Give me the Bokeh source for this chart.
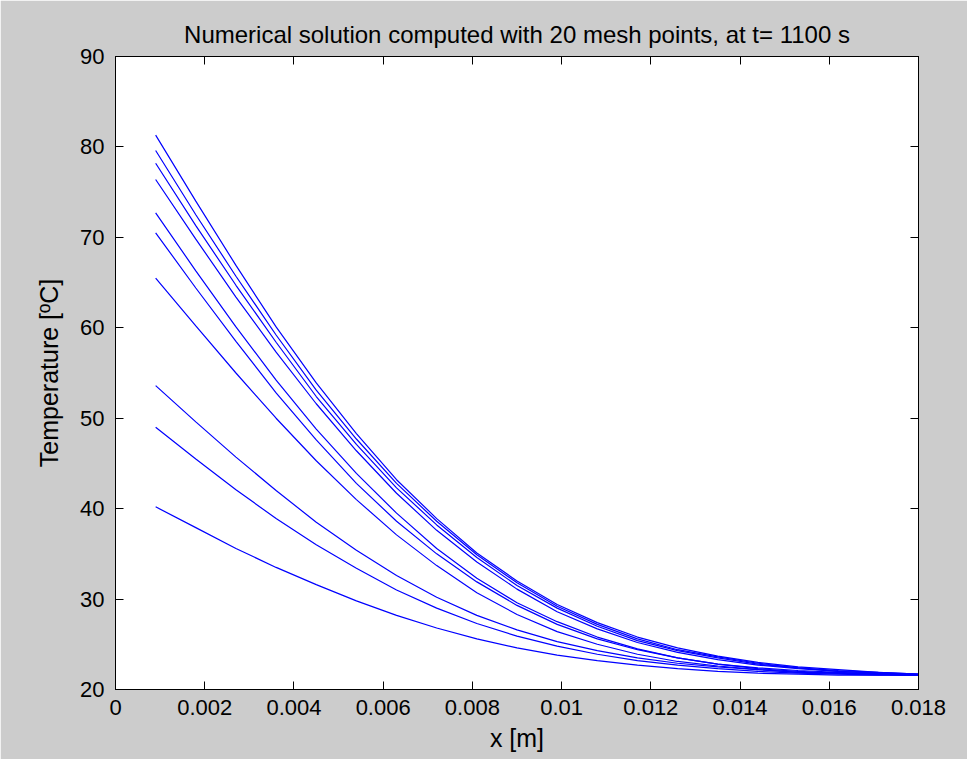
from bokeh.plotting import figure
from bokeh.models import FixedTicker, LinearAxis, Range1d
from bokeh.embed import file_html
from bokeh.resources import INLINE

title_text = "Numerical solution computed with 20 mesh points, at t= 1100 s"
x_label = "x [m]"
y_label = "Temperature [ºC]"

x_mesh = [0.0009, 0.0018, 0.0027, 0.0036, 0.0045, 0.0054, 0.0063, 0.0072, 0.0081, 0.0090,
          0.0099, 0.0108, 0.0117, 0.0126, 0.0135, 0.0144, 0.0153, 0.0162, 0.0171, 0.0180]

temp_1 = [81.3, 74.0, 66.9, 60.1, 53.9, 48.3, 43.2, 38.9, 35.1, 32.0,
          29.4, 27.4, 25.8, 24.6, 23.7, 23.0, 22.5, 22.2, 21.9, 21.7]
temp_2 = [79.6, 72.5, 65.7, 59.2, 53.1, 47.7, 42.8, 38.6, 34.9, 31.8,
          29.2, 27.2, 25.6, 24.4, 23.6, 22.9, 22.4, 22.1, 21.9, 21.7]
temp_3 = [78.2, 71.3, 64.7, 58.4, 52.4, 47.1, 42.3, 38.2, 34.6, 31.5,
          29.0, 27.0, 25.4, 24.3, 23.5, 22.8, 22.4, 22.0, 21.8, 21.7]
temp_4 = [76.4, 69.8, 63.4, 57.3, 51.6, 46.4, 41.7, 37.6, 34.1, 31.1,
          28.6, 26.7, 25.2, 24.1, 23.3, 22.7, 22.3, 22.0, 21.8, 21.6]
temp_5 = [72.7, 66.3, 60.1, 54.2, 48.8, 43.9, 39.5, 35.6, 32.3, 29.6,
          27.5, 25.8, 24.5, 23.5, 22.8, 22.3, 22.0, 21.8, 21.7, 21.6]
temp_6 = [70.5, 64.4, 58.5, 52.8, 47.6, 42.8, 38.6, 35.0, 31.9, 29.3,
          27.2, 25.6, 24.4, 23.5, 22.8, 22.4, 22.1, 21.9, 21.7, 21.6]
temp_7 = [65.5, 60.2, 55.0, 50.0, 45.3, 41.0, 37.1, 33.7, 30.7, 28.3,
          26.4, 25.0, 23.9, 23.1, 22.6, 22.2, 21.9, 21.8, 21.7, 21.6]
temp_8 = [53.6, 49.6, 45.7, 42.0, 38.5, 35.4, 32.6, 30.2, 28.2, 26.6,
          25.3, 24.3, 23.5, 22.9, 22.5, 22.2, 21.9, 21.8, 21.7, 21.6]
temp_9 = [49.0, 45.5, 42.1, 38.9, 36.0, 33.4, 31.0, 29.0, 27.3, 25.9,
          24.8, 23.9, 23.2, 22.7, 22.3, 22.0, 21.8, 21.7, 21.6, 21.6]
temp_10 = [40.2, 37.9, 35.6, 33.5, 31.6, 29.8, 28.2, 26.8, 25.6, 24.6,
           23.8, 23.2, 22.7, 22.3, 22.0, 21.8, 21.7, 21.6, 21.6, 21.6]

curves = [temp_1, temp_2, temp_3, temp_4, temp_5, temp_6, temp_7, temp_8, temp_9, temp_10]

x_ticks = [0, 0.002, 0.004, 0.006, 0.008, 0.01, 0.012, 0.014, 0.016, 0.018]
x_tick_labels = ["0", "0.002", "0.004", "0.006", "0.008", "0.01", "0.012", "0.014", "0.016", "0.018"]
y_ticks = [20, 30, 40, 50, 60, 70, 80, 90]

FONT = "Liberation Sans"

p = figure(width=967, height=759, output_backend="svg", toolbar_location=None,
           x_range=Range1d(0, 0.018), y_range=Range1d(20, 90),
           min_border_left=115, min_border_right=49, min_border_top=56, min_border_bottom=70,
           background_fill_color="white", border_fill_color="#cccccc",
           outline_line_color="black", outline_line_width=1,
           title=title_text)

p.title.align = "center"
p.title.text_font = FONT
p.title.text_font_size = "24px"
p.title.text_font_style = "normal"
p.title.text_color = "black"
p.title.standoff = 18

p.grid.visible = False

for c in curves:
    p.line(x_mesh, c, line_color="#0000ff", line_width=1.2)

xa = p.xaxis[0]
xa.ticker = FixedTicker(ticks=x_ticks)
xa.major_label_overrides = {t: l for t, l in zip(x_ticks, x_tick_labels)}
xa.axis_label = x_label
xa.major_label_standoff = 10
xa.axis_label_standoff = 6

ya = p.yaxis[0]
ya.ticker = FixedTicker(ticks=y_ticks)
ya.axis_label = y_label
ya.major_label_standoff = 11
ya.axis_label_standoff = 14

for ax in (xa, ya):
    ax.major_tick_in = 8
    ax.major_tick_out = 0
    ax.minor_tick_line_color = None
    ax.axis_line_color = "black"
    ax.major_tick_line_color = "black"
    ax.major_label_text_font = FONT
    ax.major_label_text_font_size = "22px"
    ax.major_label_text_color = "black"
    ax.axis_label_text_font = FONT
    ax.axis_label_text_font_size = "25px"
    ax.axis_label_text_font_style = "normal"
    ax.axis_label_text_color = "black"

top = LinearAxis(ticker=FixedTicker(ticks=x_ticks), major_label_text_color=None,
                 major_label_text_font_size="1px",
                 major_tick_in=8, major_tick_out=0, minor_tick_line_color=None,
                 major_label_standoff=0, axis_line_color="black")
right = LinearAxis(ticker=FixedTicker(ticks=y_ticks), major_label_text_color=None,
                   major_label_text_font_size="1px",
                   major_tick_in=8, major_tick_out=0, minor_tick_line_color=None,
                   major_label_standoff=0, axis_line_color="black")
p.add_layout(top, "above")
p.add_layout(right, "right")

open("out.html", "w").write(file_html(p, INLINE))
